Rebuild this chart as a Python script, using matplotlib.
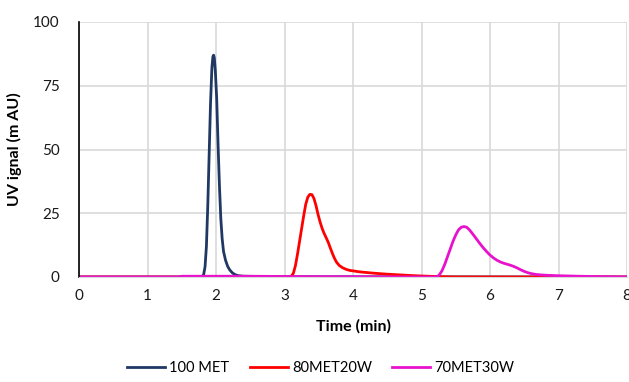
import matplotlib
matplotlib.use("Agg")
from matplotlib import pyplot as plt

plt.rcParams['font.family'] = ['Lato', 'DejaVu Sans']

# retention time (min) / UV signal (mAU) for each mobile phase
met100_t = [0, 1.5, 1.80, 1.82, 1.84, 1.86, 1.88, 1.90, 1.92, 1.94, 1.955,
            1.965, 1.975, 1.99, 2.01, 2.03, 2.05, 2.07, 2.09, 2.11, 2.14,
            2.17, 2.20, 2.24, 2.28, 2.33, 2.40, 2.60, 3.00, 8.0]
met100_y = [0, 0, 0, 1, 4, 12, 28, 48, 68, 82, 86.5,
            87, 86, 81, 70, 52, 36, 23, 15, 10, 6.5,
            4.2, 2.8, 1.6, 0.9, 0.5, 0.3, 0.2, 0.1, 0]

met80_t = [0, 3.05, 3.10, 3.13, 3.16, 3.19, 3.22, 3.25, 3.28, 3.31, 3.34,
           3.37, 3.40, 3.43, 3.46, 3.49, 3.52, 3.55, 3.58, 3.61, 3.64, 3.67,
           3.70, 3.73, 3.76, 3.80, 3.85, 3.90, 3.95, 4.10, 4.30, 4.50, 4.70,
           4.90, 5.10, 5.30, 5.50, 8.0]
met80_y = [0, 0, 0.3, 1.5, 4.5, 9, 14, 19, 24, 28.5, 31.3,
           32.4, 32.3, 30.8, 28, 24.5, 21.5, 19, 17, 15.3, 13.5, 11.3,
           9.2, 7.3, 5.8, 4.5, 3.6, 3.0, 2.6, 2.0, 1.5, 1.1, 0.8,
           0.5, 0.3, 0.1, 0, 0]

met70_t = [0, 1.45, 1.50, 2.50, 3.00, 4.00, 5.22, 5.26, 5.30, 5.34, 5.38,
           5.42, 5.46, 5.50, 5.54, 5.58, 5.62, 5.66, 5.70, 5.75, 5.80, 5.85,
           5.90, 5.95, 6.00, 6.05, 6.10, 6.15, 6.20, 6.25, 6.30, 6.35, 6.40,
           6.45, 6.50, 6.55, 6.60, 6.67, 6.75, 6.85, 7.00, 7.30, 7.60, 8.0]
met70_y = [0, 0, 0.3, 0.3, 0.2, 0.1, 0, 0.8, 2.5, 5, 8,
           11, 14, 16.5, 18.5, 19.5, 19.8, 19.5, 18.5, 16.8, 15, 13.2,
           11.5, 10, 8.6, 7.5, 6.6, 5.9, 5.4, 5.0, 4.6, 4.1, 3.5,
           2.8, 2.2, 1.7, 1.35, 1.0, 0.8, 0.65, 0.5, 0.3, 0.15, 0]

fig = plt.figure(figsize=(6.29, 3.82), dpi=100)
ax = fig.add_axes([79 / 629, 1 - 277 / 382, 548 / 629, 255 / 382])

ax.plot(met100_t, met100_y, color='#203864', lw=2, label='100 MET')
ax.plot(met80_t, met80_y, color='#FF0000', lw=2, label='80MET20W')
ax.plot(met70_t, met70_y, color='#E812CC', lw=2, label='70MET30W')

ax.set_xlim(0, 8)
ax.set_ylim(0, 100)
ax.set_xticks(range(0, 9))
ax.set_yticks([0, 25, 50, 75, 100])
ax.grid(True, color='#D9D9D9', lw=1.2)
ax.set_axisbelow(True)
for s in ['top', 'right']:
    ax.spines[s].set_visible(False)
ax.spines['left'].set_color('black')
ax.spines['left'].set_linewidth(1.2)
ax.spines['bottom'].set_color('#D9D9D9')
ax.tick_params(axis='both', length=0, labelsize=11, colors='#1a1a1a')
ax.tick_params(axis='y', pad=14)
ax.tick_params(axis='x', pad=9)

ax.set_xlabel('Time (min)', fontsize=11.5, fontweight='bold', labelpad=11)
ax.set_ylabel('UV ignal (m AU)', fontsize=11.5, fontweight='bold', labelpad=8)

fig.legend(loc='lower center', bbox_to_anchor=(0.51, -0.015), ncol=3,
           frameon=False, fontsize=10.5, handlelength=2.6, columnspacing=1.4,
           handletextpad=0.3)

fig.savefig('out.png', dpi=100)
